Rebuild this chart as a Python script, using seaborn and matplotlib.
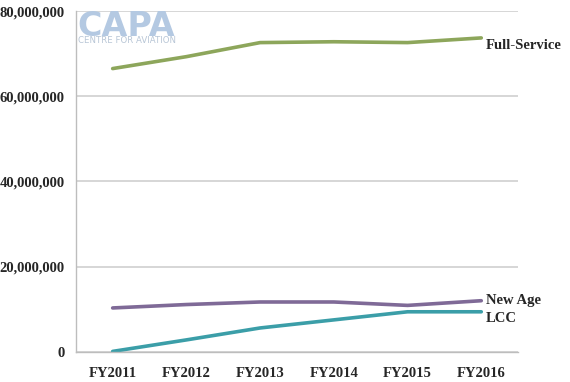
import pandas as pd
import seaborn as sns
import matplotlib.pyplot as plt
from matplotlib.ticker import FuncFormatter, FixedLocator

# Passenger numbers by carrier type
years = ['FY2011', 'FY2012', 'FY2013', 'FY2014', 'FY2015', 'FY2016']
full_service = [66500000, 69300000, 72600000, 72800000, 72600000, 73700000]
new_age = [10300000, 11100000, 11700000, 11700000, 10900000, 12000000]
lcc = [100000, 2800000, 5600000, 7500000, 9400000, 9400000]

series_names = ['Full-Service', 'New Age', 'LCC']
colors = ['#8DA65B', '#7F6A97', '#3B9EA8']

df = pd.DataFrame({
    'year': years * 3,
    'value': full_service + new_age + lcc,
    'series': [s for s in series_names for _ in years],
})

sns.set_style("white")
plt.rcParams['font.family'] = ['Liberation Serif', 'DejaVu Serif']

fig = plt.figure(figsize=(5.7, 3.82), dpi=100)
ax = fig.add_axes([0.133, 0.079, 0.776, 0.892])

# gridlines first so the lines sit on top
ax.set_ylim(0, 80000000)
ax.set_yticks(range(0, 80000001, 20000000))
ax.yaxis.grid(True, color='#CFCFCF', linewidth=1.2)
ax.set_axisbelow(True)

sns.lineplot(data=df, x='year', y='value', hue='series', palette=colors,
             linewidth=2.6, sort=False, legend=False, ax=ax)

ax.set_xlim(-0.5, 5.5)
ax.set_xlabel('')
ax.set_ylabel('')
ax.yaxis.set_major_formatter(FuncFormatter(lambda v, p: f'{int(v):,}'))

for lbl in ax.get_xticklabels() + ax.get_yticklabels():
    lbl.set_fontweight('bold')
    lbl.set_fontsize(10.5)

# tick marks sit between categories on x
ax.xaxis.set_minor_locator(FixedLocator([i - 0.5 for i in range(len(years) + 1)]))
ax.tick_params(axis='x', which='major', length=0, pad=11)
ax.tick_params(axis='x', which='minor', length=5, color='#BDBDBD', width=1)
ax.tick_params(axis='y', which='major', length=5, color='#BDBDBD', width=1, pad=3)

for side in ['top', 'right']:
    ax.spines[side].set_visible(False)
for side in ['left', 'bottom']:
    ax.spines[side].set_color('#BDBDBD')
    ax.spines[side].set_linewidth(1)

# series labels at right end of the lines
ends = [full_service[-1], new_age[-1], lcc[-1]]
offsets = [-1.8e6, 0.0, -1.5e6]
for name, end, off in zip(series_names, ends, offsets):
    ax.text(5.06, end + off, name, fontsize=10.5, fontweight='bold',
            va='center', ha='left', clip_on=False)

# CAPA watermark
ax.text(0.003, 0.927, 'CAPA', transform=ax.transAxes, fontsize=24,
        fontweight='bold', color='#B4C9E2', family='DejaVu Sans',
        va='baseline', ha='left')
ax.text(0.006, 0.905, 'CENTRE FOR AVIATION', transform=ax.transAxes,
        fontsize=6.2, color='#B8C6D6', family='DejaVu Sans',
        va='baseline', ha='left')

plt.savefig('out.png', dpi=100)
